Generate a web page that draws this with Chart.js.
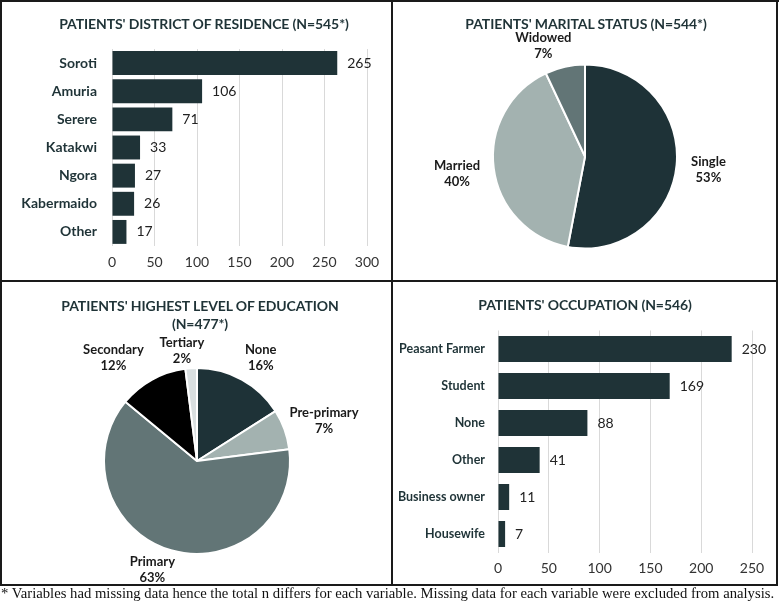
<!DOCTYPE html>
<html>
<head>
<meta charset="utf-8">
<script src="https://cdn.jsdelivr.net/npm/chart.js@4.4.1/dist/chart.umd.min.js"></script>
<style>
  body { margin: 0; background: #fff; }
  #page { position: relative; width: 779px; height: 605px; overflow: hidden; }
  .panel { position: absolute; }
  .line { position: absolute; background: #1a1a1a; }
  .ttl { position: absolute; width: 400px; text-align: center; font: bold 14px Lato, sans-serif;
         letter-spacing: -0.1px; line-height: 18px; color: #1f3337; white-space: nowrap; }
  #note { position: absolute; left: 1px; top: 585px; font: 14.7px "Liberation Serif", serif; color: #111; white-space: nowrap; }
</style>
</head>
<body>
<div id="page">
  <div class="panel" style="left:2px;top:2px;width:389px;height:278px"><canvas id="c1"></canvas></div>
  <div class="panel" style="left:393px;top:2px;width:384px;height:278px"><canvas id="c2"></canvas></div>
  <div class="panel" style="left:2px;top:283px;width:389px;height:301px"><canvas id="c3"></canvas></div>
  <div class="panel" style="left:393px;top:283px;width:384px;height:301px"><canvas id="c4"></canvas></div>

  <div class="ttl" style="left:4px;top:15px">PATIENTS' DISTRICT OF RESIDENCE (N=545*)</div>
  <div class="ttl" style="left:386px;top:15px">PATIENTS' MARITAL STATUS (N=544*)</div>
  <div class="ttl" style="left:0px;top:297px">PATIENTS' HIGHEST LEVEL OF EDUCATION<br>(N=477*)</div>
  <div class="ttl" style="left:385px;top:296px">PATIENTS' OCCUPATION (N=546)</div>

  <div class="line" style="left:0;top:0;width:779px;height:2px"></div>
  <div class="line" style="left:0;top:584px;width:778px;height:2px"></div>
  <div class="line" style="left:0;top:0;width:2px;height:586px"></div>
  <div class="line" style="left:776px;top:0;width:2px;height:586px"></div>
  <div class="line" style="left:391px;top:0;width:2px;height:586px"></div>
  <div class="line" style="left:0;top:280px;width:778px;height:2px"></div>

  <div id="note">* Variables had missing data hence the total n differs for each variable. Missing data for each variable were excluded from analysis.</div>
</div>
<script>
// data
var districts = ["Soroti", "Amuria", "Serere", "Katakwi", "Ngora", "Kabermaido", "Other"];
var districtCounts = [265, 106, 71, 33, 27, 26, 17];

var maritalLabels = ["Single", "Married", "Widowed"];
var maritalPct = [53, 40, 7];

var educLabels = ["None", "Pre-primary", "Primary", "Secondary", "Tertiary"];
var educPct = [16, 7, 63, 12, 2];

var occupations = ["Peasant Farmer", "Student", "None", "Other", "Business owner", "Housewife"];
var occCounts = [230, 169, 88, 41, 11, 7];

var dark = "#1f3337";
Chart.defaults.font.family = "Lato, 'Open Sans', sans-serif";
Chart.defaults.color = dark;
Chart.defaults.animation = false;
Chart.defaults.responsive = true;
Chart.defaults.maintainAspectRatio = false;

// value labels to the right of the bars
var barLabels = {
  id: "barLabels",
  afterDatasetsDraw: function (chart) {
    var ctx = chart.ctx;
    var meta = chart.getDatasetMeta(0);
    ctx.save();
    ctx.font = "14px Lato";
    ctx.fillStyle = "#222";
    ctx.textAlign = "left";
    ctx.textBaseline = "middle";
    meta.data.forEach(function (bar, i) {
      ctx.fillText(chart.data.datasets[0].data[i], bar.x + 10, bar.y);
    });
    ctx.restore();
  }
};

// name + percent labels around the pies
var pieLabels = {
  id: "pieLabels",
  afterDraw: function (chart, args, opts) {
    var ctx = chart.ctx;
    var meta = chart.getDatasetMeta(0);
    ctx.save();
    ctx.font = "bold 13px Lato";
    ctx.fillStyle = "#1a1a1a";
    ctx.textAlign = "center";
    ctx.textBaseline = "middle";
    meta.data.forEach(function (arc, i) {
      var p = arc.getProps(["x", "y", "startAngle", "endAngle"], true);
      var mid = (p.startAngle + p.endAngle) / 2;
      var pl = opts.place[i];
      var x = p.x + Math.cos(mid) * pl[0] + pl[1];
      var y = p.y + Math.sin(mid) * pl[0] + pl[2];
      ctx.fillText(chart.data.labels[i], x, y - 8);
      ctx.fillText(chart.data.datasets[0].data[i] + "%", x, y + 8);
    });
    ctx.restore();
  }
};

function barChart(id, labels, values, max, pct, pad, tickFont, labelPad) {
  return new Chart(id, {
    type: "bar",
    data: {
      labels: labels,
      datasets: [{
        data: values,
        backgroundColor: dark,
        categoryPercentage: pct,
        barPercentage: 1
      }]
    },
    options: {
      indexAxis: "y",
      layout: { padding: { left: 0, right: pad.right, top: pad.top, bottom: 0 } },
      plugins: {
        legend: { display: false },
        tooltip: { enabled: false }
      },
      scales: {
        x: {
          min: 0,
          max: max,
          ticks: { stepSize: 50, padding: 8, font: { size: 14 }, color: "#333" },
          grid: { color: "#d9d9d9", drawTicks: false },
          border: { display: false },
          afterFit: function (s) { s.height = pad.xh; }
        },
        y: {
          ticks: { font: { size: tickFont, weight: "bold" }, color: dark, padding: labelPad },
          grid: { display: false, drawTicks: false },
          border: { display: false },
          afterFit: function (s) { s.width = pad.yw; }
        }
      }
    },
    plugins: [barLabels]
  });
}

function pieChart(id, labels, values, colors, pad, place) {
  return new Chart(id, {
    type: "pie",
    data: {
      labels: labels,
      datasets: [{
        data: values,
        backgroundColor: colors,
        borderColor: "#fff",
        borderWidth: 2
      }]
    },
    options: {
      layout: { padding: pad },
      plugins: {
        legend: { display: false },
        tooltip: { enabled: false },
        pieLabels: { place: place }
      }
    },
    plugins: [pieLabels]
  });
}

barChart("c1", districts, districtCounts, 300, 0.85,
  { right: 24, top: 47, xh: 34, yw: 110 }, 14, 15);

pieChart("c2", maritalLabels, maritalPct, ["#1e3237", "#a3b2b0", "#627576"],
  { left: 0, right: 0, top: 61.5, bottom: 30.5 },
  [[124, 0, 2], [129, 0, 1], [113, -17, 0]]);

pieChart("c3", educLabels, educPct, ["#1e3237", "#a3b2b0", "#627576", "#000000", "#d9dfe0"],
  { left: 1, right: 0, top: 84, bottom: 29 },
  [[122, 5, 4], [135, 0, 6], [117, -12, -4], [134, -19, 14], [112, -8, 2]]);

barChart("c4", occupations, occCounts, 250, 0.7,
  { right: 25, top: 47.5, xh: 31.5, yw: 105 }, 12.5, 13);
</script>
</body>
</html>
